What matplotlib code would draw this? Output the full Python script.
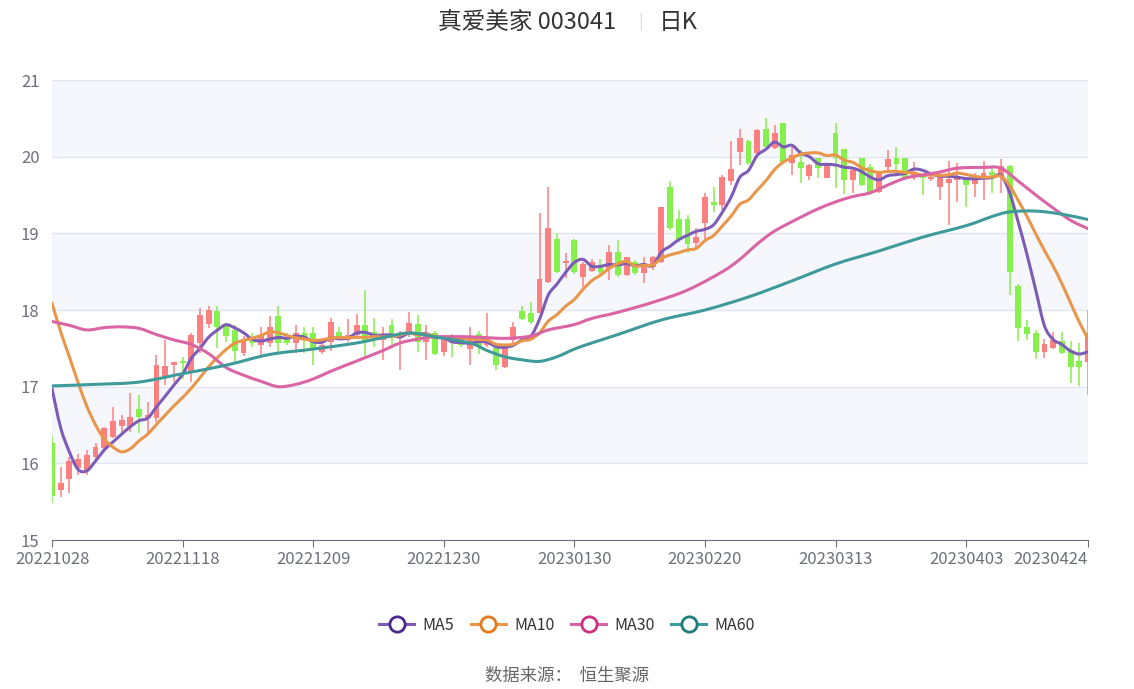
import numpy as np
import matplotlib
matplotlib.use('Agg')
from matplotlib import pyplot as plt
from matplotlib.lines import Line2D
from matplotlib.path import Path
from matplotlib.patches import PathPatch

plt.rcParams['font.family'] = ['Noto Sans CJK SC', 'DejaVu Sans']

# fechas del eje x (cada 15 sesiones, mas la ultima)
fechas = ['20221028', '20221118', '20221209', '20221230', '20230130',
          '20230220', '20230313', '20230403', '20230424']
pos_fechas = [0, 15, 30, 45, 60, 75, 90, 105, 119]

# velas diarias
apertura = [16.26, 15.65, 15.80, 15.94, 15.91, 16.08, 16.20, 16.35, 16.49, 16.47,
            16.71, 16.59, 16.59, 17.14, 17.28, 17.33, 17.18, 17.57, 17.82, 17.99,
            17.79, 17.74, 17.44, 17.64, 17.54, 17.57, 17.92, 17.65, 17.57, 17.70,
            17.70, 17.45, 17.58, 17.71, 17.61, 17.67, 17.80, 17.71, 17.61, 17.80,
            17.63, 17.70, 17.82, 17.58, 17.70, 17.45, 17.65, 17.62, 17.49, 17.69,
            17.54, 17.50, 17.26, 17.61, 17.99, 17.96, 17.96, 18.37, 18.93, 18.61,
            18.91, 18.43, 18.51, 18.58, 18.54, 18.76, 18.46, 18.62, 18.48, 18.56,
            18.63, 19.60, 19.19, 19.19, 18.87, 19.13, 19.41, 19.37, 19.68, 20.06,
            20.20, 20.05, 20.36, 20.11, 20.44, 19.92, 19.93, 19.75, 19.98, 19.72,
            20.31, 20.10, 19.70, 19.98, 19.87, 19.54, 19.87, 19.98, 19.98, 19.73,
            19.76, 19.71, 19.60, 19.66, 19.70, 19.72, 19.64, 19.72, 19.80, 19.74,
            19.88, 18.31, 17.78, 17.70, 17.45, 17.51, 17.60, 17.48, 17.34, 17.32]
cierre = [15.57, 15.74, 16.03, 16.06, 16.11, 16.21, 16.46, 16.55, 16.57, 16.60,
          16.60, 16.63, 17.28, 17.27, 17.32, 17.31, 17.67, 17.93, 18.00, 17.78,
          17.66, 17.46, 17.62, 17.57, 17.67, 17.78, 17.57, 17.57, 17.70, 17.61,
          17.48, 17.54, 17.84, 17.65, 17.67, 17.80, 17.58, 17.65, 17.67, 17.67,
          17.67, 17.83, 17.58, 17.70, 17.43, 17.64, 17.57, 17.54, 17.65, 17.53,
          17.61, 17.28, 17.50, 17.78, 17.88, 17.84, 18.40, 19.07, 18.50, 18.64,
          18.49, 18.60, 18.62, 18.50, 18.76, 18.46, 18.69, 18.48, 18.58, 18.69,
          19.34, 19.07, 18.91, 18.86, 18.95, 19.47, 19.37, 19.73, 19.84, 20.24,
          19.92, 20.35, 20.13, 20.31, 19.93, 20.02, 19.85, 19.89, 19.85, 19.89,
          19.98, 19.70, 19.83, 19.63, 19.53, 19.80, 19.97, 19.90, 19.72, 19.80,
          19.72, 19.73, 19.76, 19.71, 19.74, 19.63, 19.72, 19.79, 19.76, 19.88,
          18.50, 17.77, 17.69, 17.45, 17.56, 17.61, 17.44, 17.26, 17.26, 17.70]
maximo = [16.36, 15.95, 16.08, 16.12, 16.17, 16.26, 16.47, 16.74, 16.63, 16.92,
          16.89, 16.80, 17.41, 17.61, 17.32, 17.39, 17.70, 18.03, 18.05, 18.05,
          17.83, 17.80, 17.66, 17.70, 17.78, 17.92, 18.05, 17.70, 17.80, 17.78,
          17.78, 17.58, 17.90, 17.78, 17.88, 17.95, 18.26, 17.90, 17.78, 17.88,
          17.73, 17.97, 17.94, 17.80, 17.72, 17.68, 17.69, 17.65, 17.78, 17.72,
          17.96, 17.52, 17.52, 17.84, 18.05, 18.10, 19.27, 19.60, 19.01, 18.75,
          18.93, 18.62, 18.66, 18.66, 18.85, 18.91, 18.69, 18.65, 18.69, 18.71,
          19.34, 19.68, 19.30, 19.24, 19.07, 19.52, 19.60, 19.76, 20.20, 20.36,
          20.22, 20.36, 20.50, 20.41, 20.44, 20.13, 20.09, 19.91, 19.98, 19.89,
          20.44, 20.10, 19.83, 19.98, 19.90, 19.80, 20.09, 20.12, 19.98, 19.93,
          19.78, 19.80, 19.80, 19.95, 19.92, 19.73, 19.79, 19.95, 19.87, 19.97,
          19.89, 18.34, 17.87, 17.74, 17.62, 17.71, 17.71, 17.59, 17.57, 18.00]
minimo = [15.48, 15.56, 15.61, 15.85, 15.85, 16.06, 16.19, 16.33, 16.41, 16.41,
          16.40, 16.40, 16.54, 17.02, 17.06, 17.10, 17.06, 17.44, 17.77, 17.50,
          17.58, 17.32, 17.40, 17.52, 17.41, 17.52, 17.41, 17.54, 17.44, 17.44,
          17.28, 17.43, 17.46, 17.63, 17.58, 17.63, 17.39, 17.52, 17.35, 17.52,
          17.22, 17.65, 17.45, 17.35, 17.41, 17.40, 17.39, 17.52, 17.28, 17.42,
          17.52, 17.22, 17.24, 17.52, 17.87, 17.82, 17.96, 18.35, 18.48, 18.42,
          18.47, 18.30, 18.49, 18.47, 18.39, 18.43, 18.45, 18.46, 18.35, 18.52,
          18.61, 19.04, 18.89, 18.74, 18.82, 18.93, 19.28, 19.31, 19.63, 19.89,
          19.89, 20.03, 20.11, 20.10, 19.91, 19.76, 19.66, 19.70, 19.72, 19.72,
          19.59, 19.51, 19.53, 19.62, 19.50, 19.52, 19.83, 19.80, 19.70, 19.70,
          19.50, 19.68, 19.43, 19.11, 19.41, 19.35, 19.48, 19.44, 19.52, 19.52,
          18.20, 17.59, 17.61, 17.36, 17.38, 17.49, 17.42, 17.05, 17.01, 16.89]

# cierres anteriores al primer dia (para MA5 y MA10)
cierre_previo = [19.50, 19.30, 19.40, 19.20, 18.63, 18.30, 17.60, 17.20, 16.20]

# MA30
idx30 = [0, 2, 4, 6, 8, 10, 12, 14, 16, 18, 20, 22, 24, 26, 28, 30, 32, 34, 36,
         38, 40, 42, 44, 48, 52, 55, 57, 60, 62, 65, 69, 73, 77, 79, 81, 83, 86,
         88, 90, 92, 94, 96, 98, 100, 102, 104, 107, 109, 111, 113, 115, 117, 119]
ma30 = [17.85, 17.80, 17.74, 17.77, 17.78, 17.76, 17.68, 17.61, 17.55, 17.43,
        17.25, 17.15, 17.07, 17.00, 17.03, 17.10, 17.20, 17.29, 17.38, 17.47,
        17.57, 17.62, 17.65, 17.65, 17.63, 17.66, 17.74, 17.81, 17.89, 17.97,
        18.10, 18.26, 18.50, 18.66, 18.86, 19.03, 19.21, 19.32, 19.41, 19.48,
        19.53, 19.63, 19.72, 19.76, 19.80, 19.85, 19.86, 19.85, 19.68, 19.50,
        19.33, 19.17, 19.06]

# MA60
idx60 = [0, 5, 10, 15, 20, 25, 30, 35, 38, 41, 44, 48, 50, 52, 54, 56, 58, 60,
         62, 65, 70, 75, 80, 85, 90, 95, 100, 105, 108, 110, 113, 116, 119]
ma60 = [17.01, 17.03, 17.06, 17.17, 17.28, 17.42, 17.49, 17.57, 17.64, 17.70,
        17.65, 17.57, 17.47, 17.39, 17.35, 17.33, 17.39, 17.49, 17.57, 17.68,
        17.87, 18.00, 18.17, 18.38, 18.60, 18.77, 18.95, 19.10, 19.22, 19.28,
        19.29, 19.25, 19.18]

n = len(cierre)
x = np.arange(n)
todo = np.array(cierre_previo + cierre)
p = len(cierre_previo)
ma5 = np.array([todo[i + p - 4:i + p + 1].mean() for i in range(n)])
ma10 = np.array([todo[i + p - 9:i + p + 1].mean() for i in range(n)])

rojo = '#fd8080'
verde = '#86f04c'
c_ma5, c_ma10, c_ma30, c_ma60 = '#7c5cb6', '#e9964a', '#da64a4', '#3f9a9a'


def curva(ax, xs, ys, color):
    # linea suave (bezier tipo catmull-rom) por los puntos dados
    xs = np.asarray(xs, float)
    ys = np.asarray(ys, float)
    verts = [(xs[0], ys[0])]
    codes = [Path.MOVETO]
    m = len(xs)
    for i in range(m - 1):
        xa, ya = (xs[i - 1], ys[i - 1]) if i > 0 else (xs[i], ys[i])
        xb, yb = (xs[i + 2], ys[i + 2]) if i + 2 < m else (xs[i + 1], ys[i + 1])
        c1 = (xs[i] + (xs[i + 1] - xa) / 6, ys[i] + (ys[i + 1] - ya) / 6)
        c2 = (xs[i + 1] - (xb - xs[i]) / 6, ys[i + 1] - (yb - ys[i]) / 6)
        verts += [c1, c2, (xs[i + 1], ys[i + 1])]
        codes += [Path.CURVE4] * 3
    ax.add_patch(PathPatch(Path(verts, codes), fill=False, edgecolor=color,
                           lw=2.2, capstyle='round', joinstyle='round',
                           zorder=4))


fig = plt.figure(figsize=(11.34, 6.89), dpi=100)
ax = fig.add_axes([52 / 1134, 1 - 540 / 689, 1036 / 1134, 460 / 689])

# bandas de fondo
for k in range(15, 21):
    if k % 2 == 0:
        ax.axhspan(k, k + 1, color='#f5f7fc', zorder=0, lw=0)
    ax.axhline(k, color='#e0e6f1', lw=1, zorder=0.5)
ax.axhline(21, color='#e0e6f1', lw=1, zorder=0.5)

# velas
ab = np.array(apertura)
ce = np.array(cierre)
sube = ce >= ab
colores = np.where(sube, rojo, verde)
ax.vlines(x, minimo, maximo, colors=colores, lw=1.1, zorder=2)
alto = np.maximum(np.abs(ce - ab), 0.025)
ax.bar(x, alto, bottom=np.minimum(ab, ce), width=0.68, color=colores,
       lw=0, zorder=3)

# medias moviles
curva(ax, x, ma5, c_ma5)
curva(ax, x, ma10, c_ma10)
curva(ax, idx30, ma30, c_ma30)
curva(ax, idx60, ma60, c_ma60)

ax.set_xlim(0, n - 1)
ax.set_ylim(15, 21)
ax.set_yticks(range(15, 22))
ax.tick_params(axis='y', length=0, pad=9, labelsize=12, labelcolor='#6e7079')
ax.set_xticks(pos_fechas)
ax.set_xticklabels(fechas)
ax.tick_params(axis='x', length=5, color='#6e7079', pad=3, labelsize=12,
               labelcolor='#6e7079')
ax.get_xticklabels()[-1].set_ha('right')
for lado in ['top', 'right', 'left']:
    ax.spines[lado].set_visible(False)
ax.spines['bottom'].set_color('#6e7079')

# titulo
fig.text(0.4645, 0.968, '真爱美家 003041', ha='center', va='center',
         fontsize=17, color='#333333')
fig.text(0.5645, 0.968, '|', ha='center', va='center', fontsize=12,
         color='#dddddd')
fig.text(0.5985, 0.968, '日K', ha='center', va='center', fontsize=17,
         color='#333333')

# leyenda
manejadores = [
    Line2D([0], [0], color=c_ma5, lw=2.2, marker='o', ms=11, mfc='white',
           mec='#4a2a8c', mew=2),
    Line2D([0], [0], color=c_ma10, lw=2.2, marker='o', ms=11, mfc='white',
           mec='#e57a1a', mew=2),
    Line2D([0], [0], color=c_ma30, lw=2.2, marker='o', ms=11, mfc='white',
           mec='#cf2f80', mew=2),
    Line2D([0], [0], color=c_ma60, lw=2.2, marker='o', ms=11, mfc='white',
           mec='#1f7c7c', mew=2),
]
fig.legend(manejadores, ['MA5', 'MA10', 'MA30', 'MA60'], loc='center',
           bbox_to_anchor=(0.5, 1 - 625 / 689), ncol=4, frameon=False,
           fontsize=11.5, handlelength=2.2, columnspacing=1.05,
           handletextpad=0.5, labelcolor='#333333')

fig.text(0.5, 1 - 676 / 689, '数据来源：  恒生聚源', ha='center', va='center',
         fontsize=12.5, color='#666666')

fig.savefig('out.png', dpi=100)
